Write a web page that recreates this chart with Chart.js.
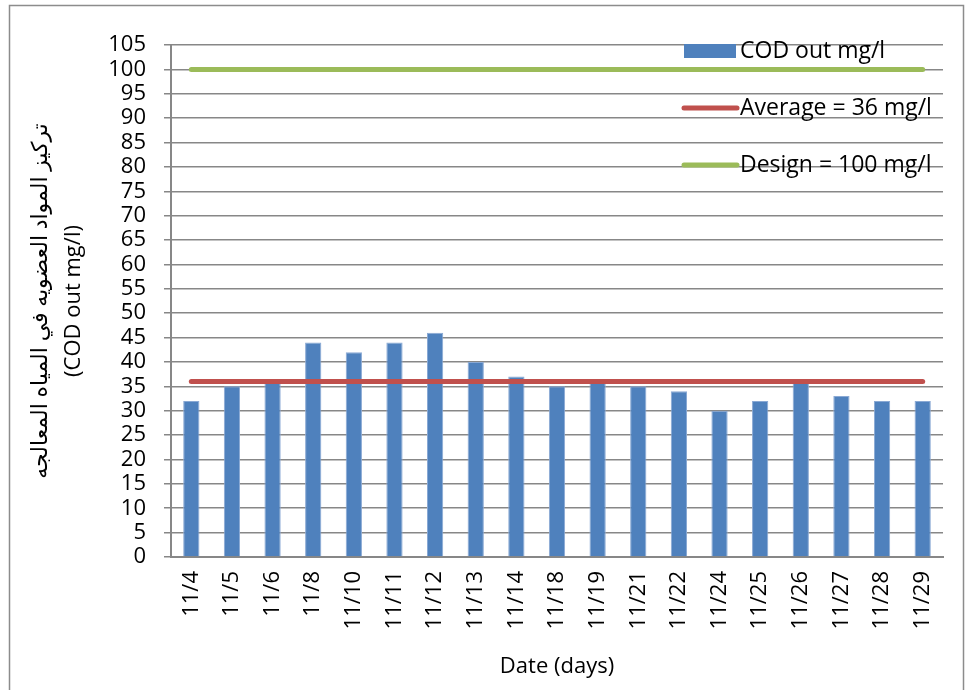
<!DOCTYPE html>
<html>
<head>
<meta charset="utf-8">
<script src="https://cdn.jsdelivr.net/npm/chart.js@4.4.1/dist/chart.umd.min.js"></script>
<style>
  html, body { margin: 0; padding: 0; background: #fff; }
  #wrap { position: relative; width: 973px; height: 690px; }
</style>
</head>
<body>
<div id="wrap"><canvas id="cod-chart" width="973" height="690"></canvas></div>
<script>
const dates = ["11/4", "11/5", "11/6", "11/8", "11/10", "11/11", "11/12", "11/13", "11/14", "11/18",
  "11/19", "11/21", "11/22", "11/24", "11/25", "11/26", "11/27", "11/28", "11/29"];
const codOut = [32, 35, 36, 44, 42, 44, 46, 40, 37, 35, 36, 35, 34, 30, 32, 36, 33, 32, 32];
const averageLine = [36, 36, 36, 36, 36, 36, 36, 36, 36, 36, 36, 36, 36, 36, 36, 36, 36, 36, 36];
const designLine = [100, 100, 100, 100, 100, 100, 100, 100, 100, 100, 100, 100, 100, 100, 100, 100, 100, 100, 100];
const seriesNames = ["COD out mg/l", "Average = 36 mg/l", "Design = 100 mg/l"];
const yTitle = ["تركيز المواد العضويه في المياه المعالجه", "(COD out mg/l)"];
const xTitle = "Date (days)";

const FONT = "'Open Sans', 'DejaVu Sans', sans-serif";
const GRID = "#878787";

// outer frame like the spreadsheet chart border
const framePlugin = {
  id: "frame",
  beforeDraw(chart) {
    const ctx = chart.ctx;
    ctx.save();
    ctx.fillStyle = "#fff";
    ctx.fillRect(0, 0, chart.width, chart.height);
    ctx.strokeStyle = "#8c8c8c";
    ctx.lineWidth = 1.5;
    ctx.strokeRect(9.5, 5.5, 954, 700);
    ctx.restore();
  },
};

// legend drawn inside the plot, stacked on the right
const insideLegend = {
  id: "insideLegend",
  afterDraw(chart) {
    const { ctx, chartArea } = chart;
    const x = chartArea.right - 259;
    ctx.save();
    ctx.font = `23px ${FONT}`;
    ctx.textBaseline = "middle";
    chart.data.datasets.forEach((ds, i) => {
      const y = chartArea.top + 6 + i * 57;
      if (ds.type === "bar") {
        ctx.fillStyle = ds.backgroundColor;
        ctx.fillRect(x, y - 7, 52, 14);
      } else {
        ctx.strokeStyle = ds.borderColor;
        ctx.lineWidth = 5;
        ctx.lineCap = "round";
        ctx.beginPath();
        ctx.moveTo(x, y);
        ctx.lineTo(x + 53, y);
        ctx.stroke();
      }
      ctx.fillStyle = "#000";
      ctx.fillText(ds.label, x + 56, y);
    });
    ctx.restore();
  },
};

new Chart(document.getElementById("cod-chart"), {
  data: {
    labels: dates,
    datasets: [
      {
        type: "bar",
        label: seriesNames[0],
        data: codOut,
        backgroundColor: "#4F81BD",
        borderColor: "#8aa9d4",
        borderWidth: 1,
        barPercentage: 0.4,
        categoryPercentage: 1,
        order: 2,
      },
      {
        type: "line",
        label: seriesNames[1],
        data: averageLine,
        borderColor: "#C0504D",
        borderWidth: 5,
        borderCapStyle: "round",
        pointRadius: 0,
        order: 1,
      },
      {
        type: "line",
        label: seriesNames[2],
        data: designLine,
        borderColor: "#9BBB59",
        borderWidth: 5,
        borderCapStyle: "round",
        pointRadius: 0,
        order: 1,
      },
    ],
  },
  options: {
    responsive: false,
    animation: false,
    layout: { padding: { left: 0, right: 30, top: 45, bottom: 10 } },
    plugins: {
      legend: { display: false },
      tooltip: { enabled: false },
    },
    scales: {
      x: {
        grid: { display: false, drawTicks: false },
        border: { display: true, color: GRID, width: 2 },
        ticks: {
          color: "#000",
          font: { family: FONT, size: 22 },
          minRotation: 90,
          maxRotation: 90,
          padding: 14,
          autoSkip: false,
        },
        title: {
          display: true,
          text: xTitle,
          color: "#000",
          font: { family: FONT, size: 22 },
          padding: { top: 4, bottom: 0 },
        },
        afterFit(scale) { scale.height = 123; },
      },
      y: {
        min: 0,
        max: 105,
        grid: { color: GRID, lineWidth: 1.5, tickLength: 7, tickColor: GRID },
        border: { display: true, color: GRID, width: 2 },
        ticks: {
          stepSize: 5,
          autoSkip: false,
          color: "#000",
          font: { family: FONT, size: 22 },
          padding: 18,
        },
        title: {
          display: true,
          text: yTitle,
          color: "#000",
          font: { family: FONT, size: 22, lineHeight: 1.5 },
          padding: { top: 24, bottom: 0 },
        },
        afterFit(scale) { scale.width = 171; },
      },
    },
  },
  plugins: [framePlugin, insideLegend],
});
</script>
</body>
</html>
